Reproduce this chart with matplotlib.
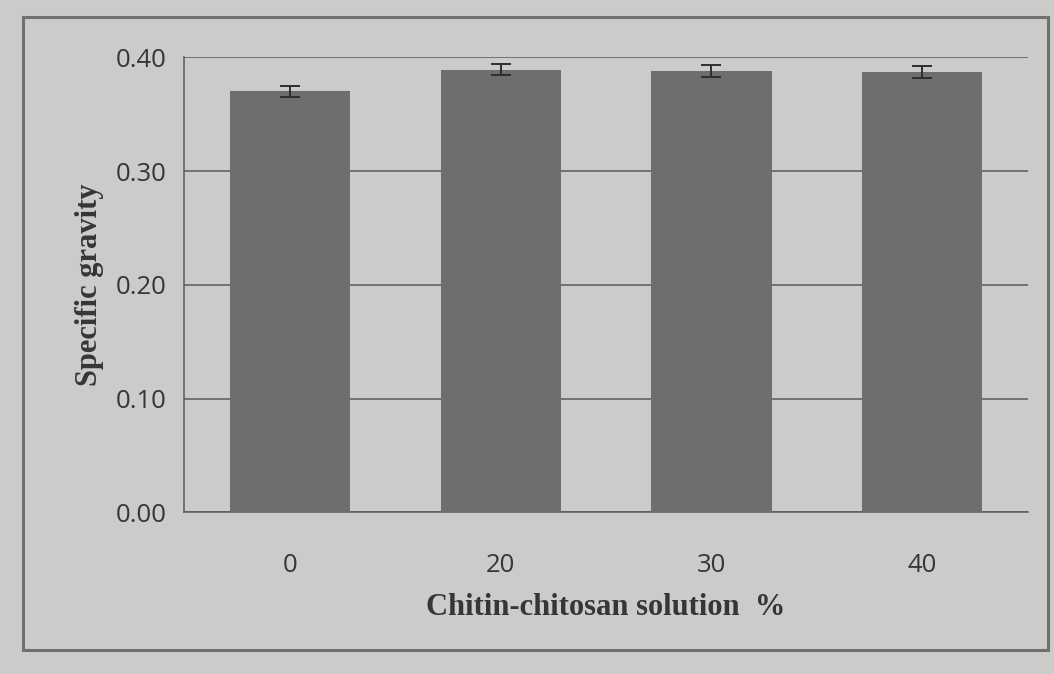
import numpy as np
import matplotlib
matplotlib.use('Agg')
import matplotlib.pyplot as plt
from matplotlib.patches import Rectangle

# specific gravity of treated samples by chitin-chitosan concentration
concentrations = ['0', '20', '30', '40']
specific_gravity = [0.370, 0.389, 0.388, 0.387]
std_err = [0.005, 0.005, 0.005, 0.005]
y_ticks = [0.00, 0.10, 0.20, 0.30, 0.40]

paper = '#cbcbc9'
ink = '#363636'
bar_color = '#6e6e6e'
line_color = '#5a5a5a'

fig = plt.figure(figsize=(10.54, 6.74), dpi=100, facecolor=paper)
ax = fig.add_axes([0.175, 0.24, 0.80, 0.675], facecolor=paper)

# chart border
fig.patches.append(Rectangle((0.022, 0.035), 0.972, 0.94, transform=fig.transFigure,
                             fill=False, edgecolor='#707070', linewidth=2.2))

x = np.arange(len(concentrations))
ax.bar(x, specific_gravity, width=0.57, color=bar_color, zorder=3)
ax.errorbar(x, specific_gravity, yerr=std_err, fmt='none', ecolor='#2e2e2e',
            elinewidth=1.4, capsize=7, capthick=1.4, zorder=4)

ax.set_ylim(0, 0.40)
ax.set_xlim(-0.5, len(concentrations) - 0.5)
ax.set_yticks(y_ticks)
ax.set_yticklabels(['{:.2f}'.format(v) for v in y_ticks])
ax.set_xticks(x)
ax.set_xticklabels(concentrations)

ax.yaxis.grid(True, color=line_color, linewidth=1.1, zorder=0)
ax.set_axisbelow(True)
for side in ['top', 'right']:
    ax.spines[side].set_visible(False)
for side in ['left', 'bottom']:
    ax.spines[side].set_color(line_color)
    ax.spines[side].set_linewidth(1.1)

ax.tick_params(axis='both', length=0, colors=ink, labelsize=18.5)
ax.tick_params(axis='y', pad=13)
ax.tick_params(axis='x', pad=29)
for lbl in ax.get_xticklabels() + ax.get_yticklabels():
    lbl.set_family('Open Sans')

ax.set_xlabel('Chitin-chitosan solution  %', family='Liberation Serif', fontweight='bold',
              fontsize=22, color=ink, labelpad=11)
ax.set_ylabel('Specific gravity', family='Liberation Serif', fontweight='bold',
              fontsize=22, color=ink, labelpad=8)

fig.savefig('out.png', dpi=100, facecolor=paper)
